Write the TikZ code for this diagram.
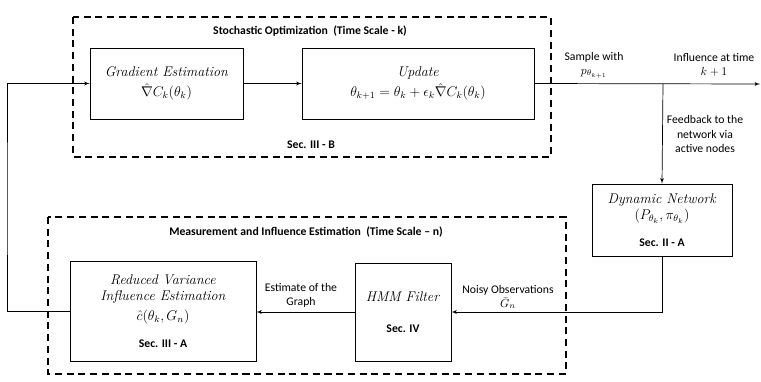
\documentclass[tikz,border=0pt]{standalone}
\usepackage{fontspec}
\newfontfamily\calibri{Carlito}
\usepackage{amsmath}
\usetikzlibrary{arrows,positioning}
\tikzstyle{line} = [draw, line width=0.6pt, -latex']

\begin{document}
\begin{tikzpicture}[block/.style={draw, line width=0.6pt, align=center, inner sep=1pt},
	dashbox/.style={draw, line width=1.6pt, dash pattern=on 6pt off 4pt},
	note/.style={font=\calibri\normalsize, align=center, inner sep=0pt},
	title/.style={font=\calibri\bfseries\normalsize, inner sep=0pt},
	x=0.03cm, y=-0.03cm, >=latex', font=\large]
	\useasboundingbox (0,0) rectangle (761,381);
	%gestrichelte Rahmen
	\draw [dashbox] (73,17) rectangle (551,157);
	\draw [dashbox] (48,217) rectangle (566,374);
	\node [title] (titleopt) at (310,31) {Stochastic Optimization\ \ (Time Scale - k)};
	\node [title] (secopt) at (311,145) {Sec. III - B};
	\node [title] (titlemeas) at (306,232) {Measurement and Influence Estimation\ \ (Time Scale \textendash\ n)};
	%Bloecke
	\node [block, minimum width=4.59cm, minimum height=2.13cm] (grad) at (166.5,83.5)
		{\textit{Gradient Estimation}\\[3pt] $\hat{\nabla} C_k(\theta_k)$};
	\node [block, minimum width=6.96cm, minimum height=2.13cm] (upd) at (418,83.5)
		{\textit{Update}\\[3pt] $\theta_{k+1} = \theta_k + \epsilon_k \hat{\nabla} C_k(\theta_k)$};
	\node [block, minimum width=4.2cm, minimum height=2.16cm] (dyn) at (662,220)
		{\textit{Dynamic Network}\\ $(P_{\theta_k}, \pi_{\theta_k})$\\[9pt] {\calibri\bfseries\normalsize Sec. II - A}};
	\node [block, minimum width=5.58cm, minimum height=3cm] (rv) at (163,311)
		{\textit{Reduced Variance}\\ \textit{Influence Estimation}\\[3pt] $\hat{c}(\theta_k, G_n)$\\[9pt] {\calibri\bfseries\normalsize Sec. III - A}};
	\node [block, minimum width=2.88cm, minimum height=2.94cm] (hmm) at (403,312)
		{\textit{HMM Filter}\\[13pt] {\calibri\bfseries\normalsize Sec. IV}};
	%Verbindungen
	\coordinate (split) at (663,84);
	\coordinate (outend) at (760,84);
	\coordinate (fbk) at (7,200);
	\path [line] (grad) -- (upd);
	\path [line] (upd.east) -- (outend);
	\path [line] (split) -- (dyn.north);
	\path [line] (dyn.south) |- (hmm.east);
	\path [line] (hmm.west) -- (rv.east |- hmm.west);
	\path [line] (rv.west) -| (fbk) |- (grad.west);
	%Beschriftungen
	\node [note] (samp) at (594,65) {Sample with\\ $p_{\theta_{k+1}}$};
	\node [note] (infl) at (714,65) {Influence at time\\ $k+1$};
	\node [note] (feed) at (705,134) {Feedback to the\\ network via\\ active nodes};
	\node [note] (noisy) at (508,297) {Noisy Observations\\ $\bar{G}_n$};
	\node [note] (estg) at (301,295) {Estimate of the\\ Graph};
\end{tikzpicture}
\end{document}
